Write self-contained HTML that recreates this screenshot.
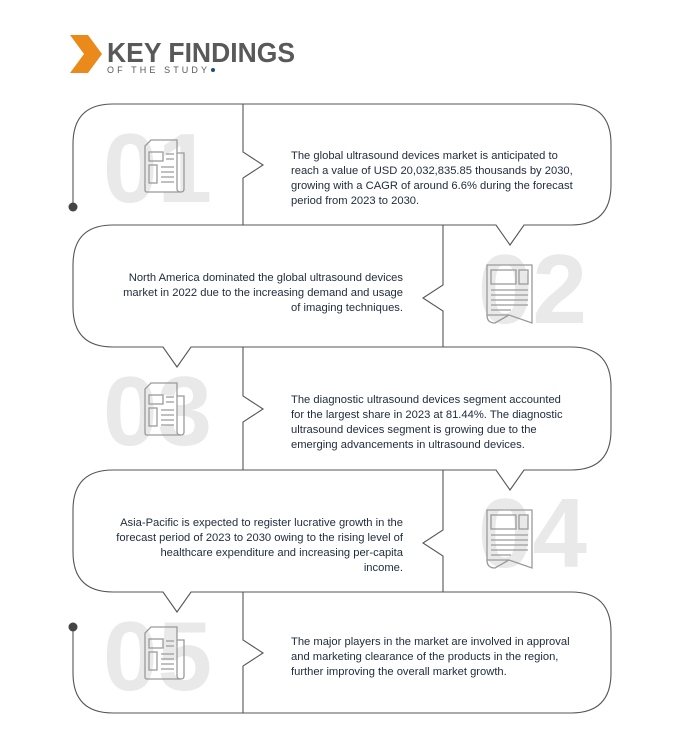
<!DOCTYPE html>
<html><head><meta charset="utf-8"><style>
body{margin:0;background:#fff;}
svg{display:block}
.n{font-family:"Liberation Sans",sans-serif;font-weight:bold;font-size:98px;fill:#e9e9e9;}
.t{font-family:"Liberation Sans",sans-serif;font-size:11.2px;fill:#1e2a3c;}
</style></head><body>
<svg width="690" height="745" viewBox="0 0 690 745" xmlns="http://www.w3.org/2000/svg">
<defs>
<g id="ic" fill="none" stroke="#9a9a9a" stroke-width="1.3">
<path d="M8,6 L8,50 Q8,52 10,52 L44,52 Q47,52 47,49 L47,13 L40,13 L40,0 L14,0 Z"/>
<path d="M40,13 L40,49 Q40,52 44,52"/>
<rect x="12" y="12" width="14" height="9"/><rect x="12" y="25" width="8" height="18"/>
<path d="M29,14h8M29,19h8M24,27h13M24,32h13M24,37h13M24,42h13"/>
</g>
<g id="ic2" fill="none" stroke="#9a9a9a" stroke-width="1.3">
<path d="M0,0 L45,0 L45,58 L22,50 L0,50 Z"/><path d="M0,50 Q0,58 8,58 L22,50"/>
<rect x="4" y="5" width="25" height="14"/><rect x="32" y="5" width="9" height="14"/>
<path d="M4,25h37M4,30h37M4,35h37M4,40h37M4,45h20"/>
</g>
</defs>
<polygon points="70,35 88,35 102,54 88,73 70,73 84,54" fill="#ea8a1a"/>
<text x="107" y="62" font-family="Liberation Sans,sans-serif" font-weight="bold" font-size="28" fill="#595959" textLength="188" lengthAdjust="spacingAndGlyphs">KEY FINDINGS</text>
<text x="107" y="73" font-family="Liberation Sans,sans-serif" font-size="9" fill="#595959" textLength="100">OF THE STUDY</text>
<circle cx="213" cy="70" r="2" fill="#1b4f7a"/>
<text class="n" x="103" y="202">01</text>
<text class="n" x="478" y="323">02</text>
<text class="n" x="103" y="445">03</text>
<text class="n" x="478" y="567">04</text>
<text class="n" x="103" y="690">05</text>
<use href="#ic" x="137" y="140"/>
<use href="#ic2" x="487" y="265"/>
<use href="#ic" x="137" y="383"/>
<use href="#ic2" x="487" y="510"/>
<use href="#ic" x="137" y="627"/>
<g fill="none" stroke="#555" stroke-width="1.1">
<path d="M73,207 L73,144 Q73,104 113,104 L571,104 Q611,104 611,144 L611,185 Q611,225 571,225 L524,225 L510,245 L496,225 L113,225 Q73,225 73,265 L73,307 Q73,347 113,347 L163,347 L177,367 L191,347 L571,347 Q611,347 611,387 L611,430 Q611,470 571,470 L524,470 L510,490 L496,470 L113,470 Q73,470 73,510 L73,552 Q73,592 113,592 L163,592 L177,612 L191,592 L571,592 Q611,592 611,632 L611,673 Q611,713 571,713 L113,713 Q73,713 73,673 L73,627"/>
<path d="M243,104 L243,152 L263,165 L243,178 L243,225"/>
<path d="M443,225 L443,285 L423,298 L443,311 L443,347"/>
<path d="M243,347 L243,396 L263,409 L243,422 L243,470"/>
<path d="M443,470 L443,530 L423,543 L443,556 L443,592"/>
<path d="M243,592 L243,640 L263,653 L243,666 L243,713"/>
</g>
<circle cx="73" cy="207" r="4.5" fill="#444"/>
<circle cx="73" cy="627" r="4.5" fill="#444"/>
<g class="t">
<text x="291" y="159">The global ultrasound devices market is anticipated to</text>
<text x="291" y="174">reach a value of USD 20,032,835.85 thousands by 2030,</text>
<text x="291" y="189">growing with a CAGR of around 6.6% during the forecast</text>
<text x="291" y="204">period from 2023 to 2030.</text>
</g>
<g class="t" text-anchor="end">
<text x="403" y="281">North America dominated the global ultrasound devices</text>
<text x="403" y="296">market in 2022 due to the increasing demand and usage</text>
<text x="403" y="311">of imaging techniques.</text>
</g>
<g class="t">
<text x="291" y="403">The diagnostic ultrasound devices segment accounted</text>
<text x="291" y="418">for the largest share in 2023 at 81.44%. The diagnostic</text>
<text x="291" y="433">ultrasound devices segment is growing due to the</text>
<text x="291" y="448">emerging advancements in ultrasound devices.</text>
</g>
<g class="t" text-anchor="end">
<text x="403" y="526">Asia-Pacific is expected to register lucrative growth in the</text>
<text x="403" y="541">forecast period of 2023 to 2030 owing to the rising level of</text>
<text x="403" y="556">healthcare expenditure and increasing per-capita</text>
<text x="403" y="571">income.</text>
</g>
<g class="t">
<text x="291" y="645">The major players in the market are involved in approval</text>
<text x="291" y="660">and marketing clearance of the products in the region,</text>
<text x="291" y="675">further improving the overall market growth.</text>
</g>
</svg>
</body></html>
